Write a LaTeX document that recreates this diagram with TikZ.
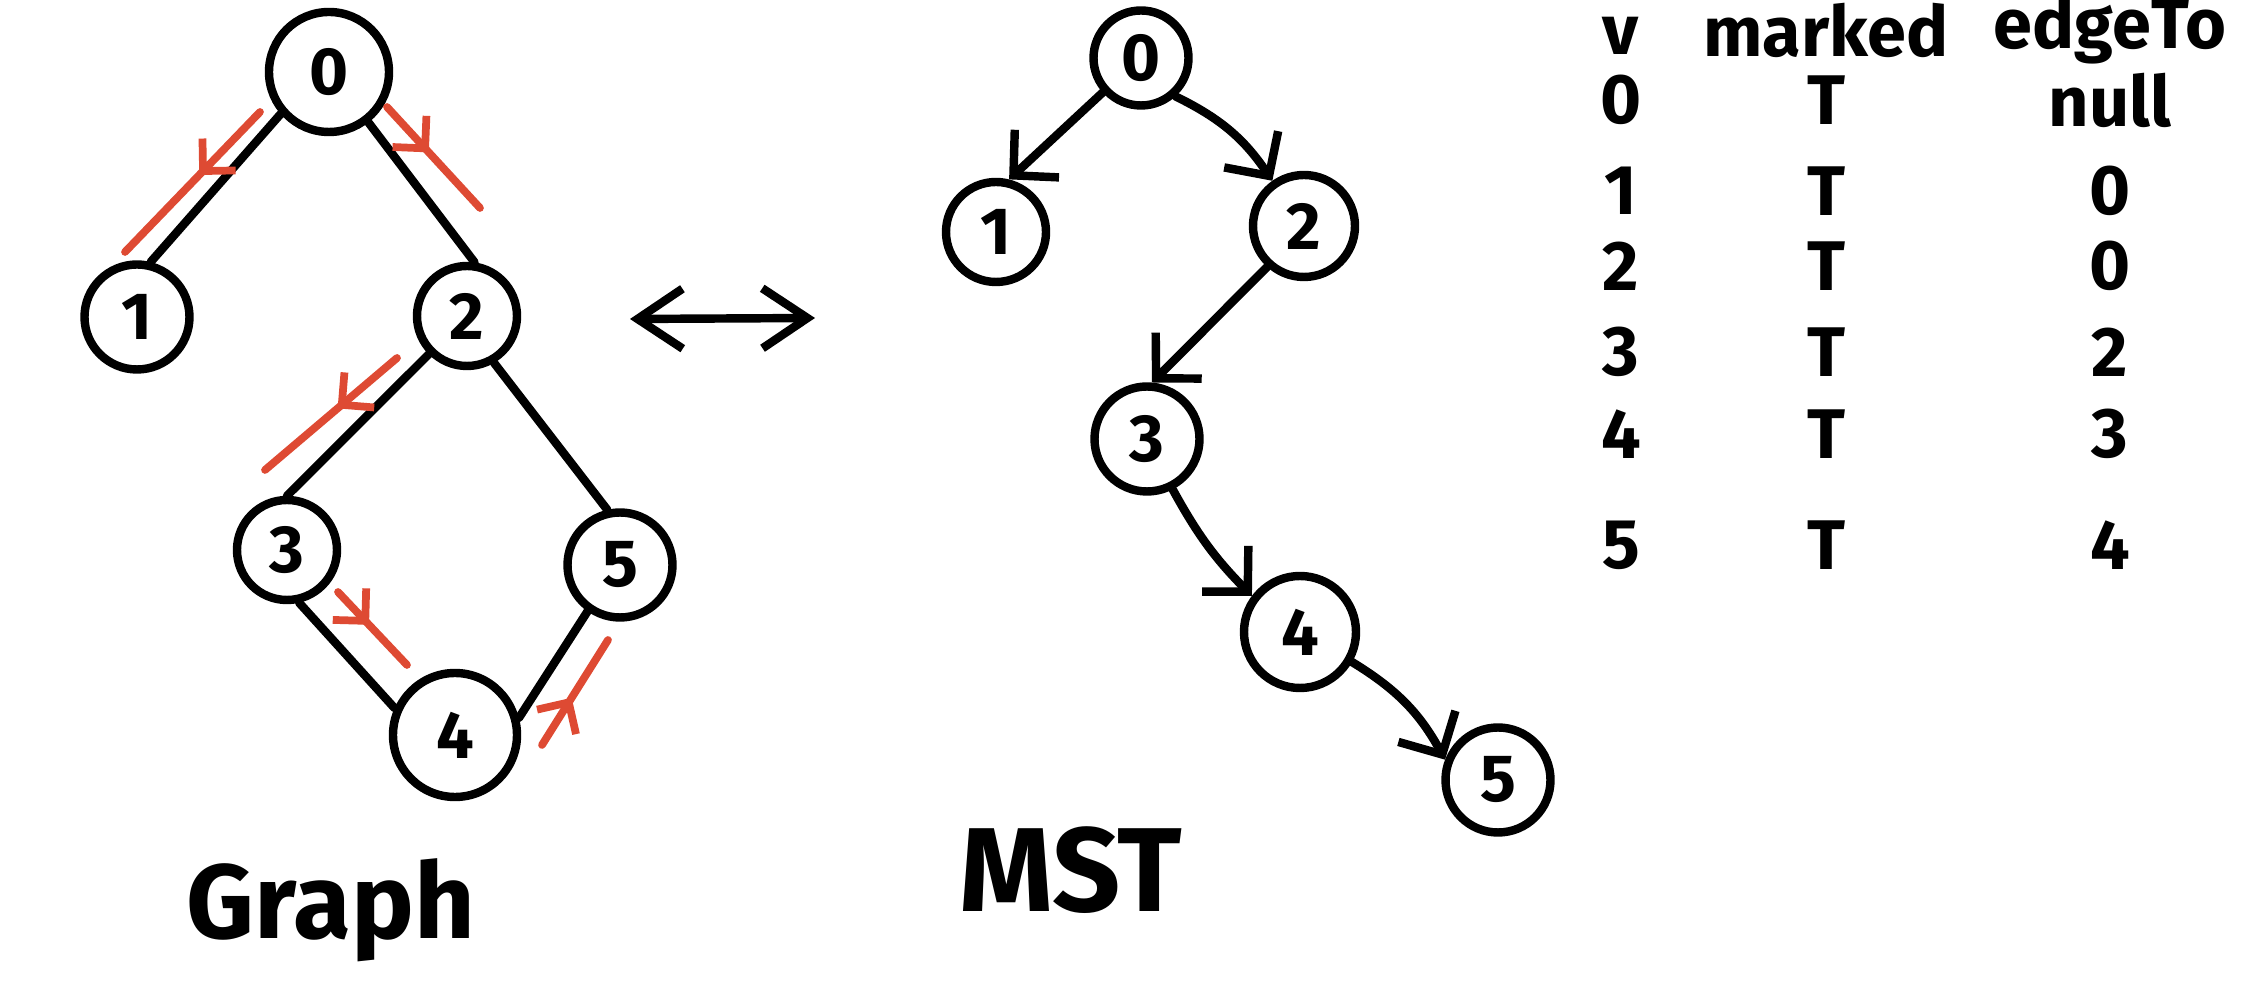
\documentclass[tikz,border=0pt]{standalone}
\usepackage{fontspec}
\setmainfont{Fira Sans}
\usetikzlibrary{arrows.meta,decorations.markings}
\definecolor{dfsred}{HTML}{DE4A33}

\begin{document}
\begin{tikzpicture}[
  pen/.style={line width=2.4pt,line cap=round,line join=round},
  vtx/.style={pen,draw,circle,inner sep=0pt,minimum size=1cm,font=\fontsize{19}{22}\selectfont\bfseries},
  dfs/.style={line width=2.2pt,line cap=round,draw=dfsred,postaction={decorate},
    decoration={markings,mark=at position 0.45 with {\arrow[dfsred,line width=2.2pt]{Straight Barb[length=2.3mm,width=4.6mm]}}}},
  tree/.style={pen,-{Straight Barb[length=3.2mm,width=6.5mm]}},
  cell/.style={font=\fontsize{20}{24}\selectfont\bfseries}]
  \useasboundingbox (0,0) rectangle (22.54,-10);

  %graph
  \node[vtx,minimum size=1.2cm] (g0) at (3.29,-0.72) {0};
  \node[vtx,minimum size=1.05cm] (g1) at (1.37,-3.17) {1};
  \node[vtx] (g2) at (4.67,-3.16) {2};
  \node[vtx] (g3) at (2.87,-5.50) {3};
  \node[vtx,minimum size=1.05cm] (g5) at (6.20,-5.65) {5};
  \node[vtx,minimum size=1.24cm] (g4) at (4.55,-7.35) {4};
  \draw[pen] (g0.221) -- (g1.76);
  \draw[pen] (g0.308) -- (g2.82);
  \draw[pen] (g2.225) -- (g3.90);
  \draw[pen] (g2.300) -- (g5.103);
  \draw[pen] (g3.283) -- (g4.156);
  \draw[pen] (g4.15) -- (g5.235);
  \node[font=\fontsize{30}{34}\selectfont\bfseries] (glabel) at (3.31,-9.10) {Graph};

  %dfs order
  \coordinate (r01a) at (2.60,-1.12); \coordinate (r01b) at (1.25,-2.52);
  \coordinate (r02a) at (3.87,-1.07); \coordinate (r02b) at (4.80,-2.08);
  \coordinate (r23a) at (3.97,-3.58); \coordinate (r23b) at (2.65,-4.70);
  \coordinate (r34a) at (3.38,-5.92); \coordinate (r34b) at (4.07,-6.65);
  \coordinate (r45a) at (5.42,-7.45); \coordinate (r45b) at (6.08,-6.40);
  \draw[dfs] (r01a) -- (r01b);
  \draw[dfs] (r02a) -- (r02b);
  \draw[dfs] (r23a) -- (r23b);
  \draw[dfs] (r34a) -- (r34b);
  \draw[dfs] (r45a) -- (r45b);

  %double arrow
  \coordinate (la) at (6.30,-3.19);
  \coordinate (lb) at (8.15,-3.18);
  \draw[pen,{Straight Barb[length=4.5mm,width=6mm]}-{Straight Barb[length=4.5mm,width=6mm]}] (la) -- (lb);

  %tree
  \node[vtx,minimum size=0.95cm] (m0) at (11.41,-0.58) {0};
  \node[vtx] (m1) at (9.96,-2.32) {1};
  \node[vtx,minimum size=1.02cm] (m2) at (13.04,-2.26) {2};
  \node[vtx,minimum size=1.05cm] (m3) at (11.47,-4.39) {3};
  \node[vtx,minimum size=1.12cm] (m4) at (13.00,-6.32) {4};
  \node[vtx,minimum size=1.05cm] (m5) at (14.98,-7.80) {5};
  \draw[tree] (m0.222) -- (m1.76);
  \draw[tree] (m0.312) to[bend left=15] (m2.125);
  \draw[tree] (m2.228) -- (m3.85);
  \draw[tree] (m3.297) to[bend right=8] (m4.143);
  \draw[tree] (m4.330) to[bend left=15] (m5.159);
  \node[font=\fontsize{34}{38}\selectfont\bfseries] (mlabel) at (10.71,-8.70) {MST};

  %table
  \node[cell] (hv) at (16.21,-0.36) {v};
  \node[cell] (hm) at (18.26,-0.30) {marked};
  \node[cell] (he) at (21.10,-0.30) {edgeTo};
  \foreach \v/\e/\y in {0/null/1.00,1/0/1.91,2/0/2.66,3/2/3.52,4/3/4.34,5/4/5.45} {
    \node[cell] (v\v) at (16.21,-\y) {\v};
    \node[cell] (t\v) at (18.26,-\y) {T};
    \node[cell] (e\v) at (21.10,-\y) {\e};
  }
\end{tikzpicture}
\end{document}
